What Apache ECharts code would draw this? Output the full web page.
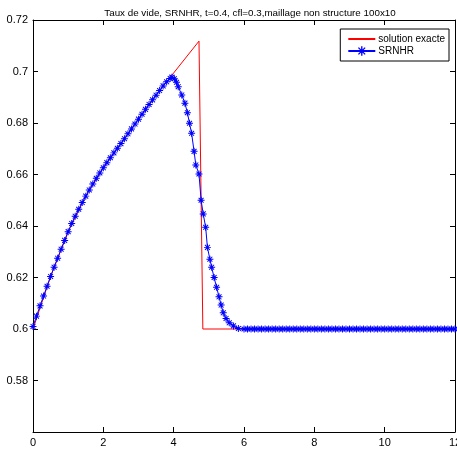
<!DOCTYPE html>
<html>
<head>
<meta charset="utf-8">
<script src="https://cdn.jsdelivr.net/npm/echarts@6/dist/echarts.min.js"></script>
<style>
html,body{margin:0;padding:0;background:#fff;}
#c{width:457px;height:453px;}
</style>
</head>
<body>
<div id="c"></div>
<script>
var titleText = 'Taux de vide, SRNHR, t=0.4, cfl=0.3,maillage non structure 100x10';
var seriesNames = ['solution exacte', 'SRNHR'];
var xTicks = [0, 2, 4, 6, 8, 10, 12];
var yTicks = [0.56, 0.58, 0.6, 0.62, 0.64, 0.66, 0.68, 0.7, 0.72];

var exactX = [0, 0.5, 1.0, 1.5, 2.0, 2.5, 3.0, 3.5, 3.8, 4.72, 4.83, 12];
var exactY = [0.600, 0.6204, 0.6378, 0.6516, 0.6626, 0.6720, 0.6815, 0.6908, 0.6960, 0.7118, 0.600, 0.600];

var srnhrX = [
  0.0, 0.1, 0.2, 0.3, 0.4, 0.5, 0.6, 0.7, 0.8, 0.9,
  1.0, 1.1, 1.2, 1.3, 1.4, 1.5, 1.6, 1.7, 1.8, 1.9,
  2.0, 2.1, 2.2, 2.3, 2.4, 2.5, 2.6, 2.7, 2.8, 2.9,
  3.0, 3.1, 3.2, 3.3, 3.4, 3.5, 3.6, 3.7, 3.8, 3.9,
  3.95, 4.02, 4.08, 4.13, 4.23, 4.32, 4.39, 4.45, 4.51, 4.58,
  4.63, 4.72, 4.78, 4.84, 4.91, 4.96, 5.03, 5.08, 5.15, 5.22,
  5.29, 5.35, 5.41, 5.49, 5.58, 5.70, 5.84, 6.0,
  6.1, 6.2, 6.3, 6.4, 6.5, 6.6, 6.7, 6.8, 6.9, 7.0,
  7.1, 7.2, 7.3, 7.4, 7.5, 7.6, 7.7, 7.8, 7.9, 8.0,
  8.1, 8.2, 8.3, 8.4, 8.5, 8.6, 8.7, 8.8, 8.9, 9.0,
  9.1, 9.2, 9.3, 9.4, 9.5, 9.6, 9.7, 9.8, 9.9, 10.0,
  10.1, 10.2, 10.3, 10.4, 10.5, 10.6, 10.7, 10.8, 10.9, 11.0,
  11.1, 11.2, 11.3, 11.4, 11.5, 11.6, 11.7, 11.8, 11.9, 12.0
];
var srnhrY = [
  0.6010, 0.6050, 0.6090, 0.6128, 0.6166, 0.6204, 0.6240, 0.6275, 0.6310, 0.6344,
  0.6378, 0.6410, 0.6438, 0.6465, 0.6491, 0.6516, 0.6540, 0.6563, 0.6585, 0.6606,
  0.6626, 0.6646, 0.6665, 0.6684, 0.6702, 0.6720, 0.6739, 0.6758, 0.6777, 0.6796,
  0.6815, 0.6834, 0.6853, 0.6872, 0.6890, 0.6908, 0.6926, 0.6944, 0.6960, 0.6973,
  0.6978, 0.6972, 0.6958, 0.6941, 0.6909, 0.6877, 0.6840, 0.6799, 0.6760, 0.6690,
  0.6637, 0.6602, 0.6500, 0.6447, 0.6395, 0.6317, 0.6271, 0.6240, 0.6200, 0.6162,
  0.6125, 0.6093, 0.6063, 0.6041, 0.6024, 0.6012, 0.6002, 0.6000,
  0.6000, 0.6000, 0.6000, 0.6000, 0.6000, 0.6000, 0.6000, 0.6000, 0.6000, 0.6000,
  0.6000, 0.6000, 0.6000, 0.6000, 0.6000, 0.6000, 0.6000, 0.6000, 0.6000, 0.6000,
  0.6000, 0.6000, 0.6000, 0.6000, 0.6000, 0.6000, 0.6000, 0.6000, 0.6000, 0.6000,
  0.6000, 0.6000, 0.6000, 0.6000, 0.6000, 0.6000, 0.6000, 0.6000, 0.6000, 0.6000,
  0.6000, 0.6000, 0.6000, 0.6000, 0.6000, 0.6000, 0.6000, 0.6000, 0.6000, 0.6000,
  0.6000, 0.6000, 0.6000, 0.6000, 0.6000, 0.6000, 0.6000, 0.6000, 0.6000, 0.6000
];

function zip(a, b) { return a.map(function (v, i) { return [v, b[i]]; }); }

var star = 'path://M-5,-0.7 L5,-0.7 L5,0.7 L-5,0.7 Z M-0.7,-5 L0.7,-5 L0.7,5 L-0.7,5 Z ' +
  'M-3.0,-4.0 L4.0,3.0 L3.0,4.0 L-4.0,-3.0 Z M-4.0,3.0 L3.0,-4.0 L4.0,-3.0 L-3.0,4.0 Z';

var FONT = 'Liberation Sans, Arial, Helvetica, sans-serif';
var xMin = xTicks[0], xMax = xTicks[xTicks.length - 1], xStep = xTicks[1] - xTicks[0];
var yMin = yTicks[0], yMax = yTicks[yTicks.length - 1], yStep = 0.02;

function axisCommon(showLabel) {
  return {
    axisLine: { show: true, onZero: false, lineStyle: { color: '#000', width: 1 } },
    axisTick: { show: true, inside: true, length: 5, lineStyle: { color: '#000', width: 1 } },
    splitLine: { show: false },
    axisLabel: { show: showLabel, color: '#000', fontFamily: FONT, fontSize: 11 }
  };
}

var xBottom = Object.assign({ type: 'value', position: 'bottom', min: xMin, max: xMax, interval: xStep }, axisCommon(true));
xBottom.axisLabel.margin = 5;
xBottom.axisLabel.showMaxLabel = true;
xBottom.axisLabel.hideOverlap = false;
var xTop = Object.assign({ type: 'value', position: 'top', min: xMin, max: xMax, interval: xStep }, axisCommon(false));
var yLeft = Object.assign({ type: 'value', position: 'left', min: yMin, max: yMax, interval: yStep }, axisCommon(true));
yLeft.axisLabel.showMinLabel = false;
yLeft.axisLabel.margin = 5;
yLeft.axisLabel.formatter = function (v) { return String(Math.round(v * 100) / 100); };
var yRight = Object.assign({ type: 'value', position: 'right', min: yMin, max: yMax, interval: yStep }, axisCommon(false));

var chart = echarts.init(document.getElementById('c'), null, { renderer: 'canvas' });
chart.setOption({
  animation: false,
  backgroundColor: '#fff',
  title: {
    text: titleText, left: 245, top: 3, textAlign: 'center',
    textStyle: { fontFamily: FONT, fontSize: 9.8, fontWeight: 'normal', color: '#000' }
  },
  grid: { left: 33, right: 2, top: 20, bottom: 21, containLabel: false, outerBoundsMode: 'none' },
  legend: {
    data: [
      { name: seriesNames[0], itemStyle: { opacity: 0 } },
      { name: seriesNames[1] }
    ],
    orient: 'vertical', right: 8, top: 29,
    backgroundColor: '#fff', borderColor: '#000', borderWidth: 1,
    padding: [5, 4, 5, 7], itemGap: 2, itemWidth: 27, itemHeight: 12,
    textStyle: { fontFamily: FONT, fontSize: 10, color: '#000', padding: [0, 0, 0, -2] }
  },
  xAxis: [xBottom, xTop],
  yAxis: [yLeft, yRight],
  series: [
    {
      name: seriesNames[0], type: 'line', data: zip(exactX, exactY),
      showSymbol: false, symbol: 'none',
      lineStyle: { color: '#ff0000', width: 1 }, itemStyle: { color: '#ff0000' },
      z: 2
    },
    {
      name: seriesNames[1], type: 'line', data: zip(srnhrX, srnhrY),
      symbol: star, symbolSize: 7, showAllSymbol: true,
      lineStyle: { color: '#0000ff', width: 1 }, itemStyle: { color: '#0000ff' },
      z: 3
    }
  ]
});
</script>
</body>
</html>
